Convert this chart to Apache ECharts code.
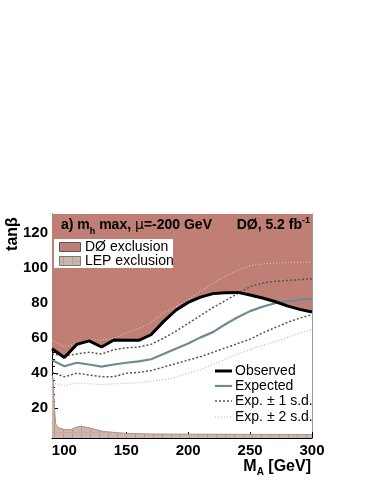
<!DOCTYPE html>
<html>
<head>
<meta charset="utf-8">
<script src="https://cdn.jsdelivr.net/npm/echarts@6/dist/echarts.min.js"></script>
<style>
  html, body { margin: 0; padding: 0; background: #fff; }
  #chart { width: 374px; height: 484px; }
</style>
</head>
<body>
<div id="chart"></div>
<script>
// M_A grid (GeV) and tanβ limits
const masses = [90, 100, 110, 120, 130, 140, 150, 160, 170, 180, 190, 200, 210, 220, 230, 240, 250, 260, 270, 280, 290, 300]
const observed = [54, 49, 56.5, 58.5, 55, 59, 58.8, 58.8, 62, 69.5, 76, 80.5, 83.5, 85.5, 86, 86.2, 84.7, 83, 81, 78.5, 76.5, 75]
const expected = [47.5, 44, 46, 45, 43.8, 45, 46, 46.8, 48, 51, 54, 57, 60.5, 63.5, 68, 72, 75.5, 78, 80, 81, 82, 82.5]
const plus1sd = [51, 50, 51, 52, 51, 53.5, 54.5, 55, 56.5, 60, 64, 68.5, 73, 77.5, 81.5, 85.5, 89.5, 91.5, 92.5, 93, 93.5, 94]
const minus1sd = [40.5, 38, 40, 39, 38, 38, 40, 40.5, 41.5, 43.5, 45.5, 47.5, 49.5, 52, 54.5, 57, 59.5, 63, 66, 69, 71.5, 73.5]
const plus2sd = [59, 55, 57, 59, 59, 60, 63, 65.5, 69, 74.5, 78, 82, 87, 91.5, 95.5, 99, 101.5, 102.5, 103, 103.3, 103.4, 103.5]
const minus2sd = [34.5, 33, 34.5, 34, 33.5, 34, 34.3, 34.6, 35.5, 36.2, 37.8, 40, 42, 45, 48, 51, 53.5, 56, 58, 60.5, 63, 65]

// LEP excluded region
const lepMass = [90, 91, 92, 93, 95, 100, 105, 110, 113, 120, 130, 140, 150, 170, 200, 250, 300]
const lepTanb = [39, 37, 20, 11, 9, 7.8, 7.8, 9.3, 9.8, 8.8, 7, 6.2, 5.7, 5.3, 5.2, 5.1, 5]

// tick labels
const xMajor = [100, 150, 200, 250, 300]
const xMinor = [90, 100, 110, 120, 130, 140, 150, 160, 170, 180, 190, 200, 210, 220, 230, 240, 250, 260, 270, 280, 290, 300]
const yMajor = [20, 40, 60, 80, 100, 120]
const yMinor = [4, 8, 12, 16, 20, 24, 28, 32, 36, 40, 44, 48, 52, 56, 60, 64, 68, 72, 76, 80, 84, 88, 92, 96, 100, 104, 108, 112, 116, 120, 124, 128]

const FONT = 'Liberation Sans, Arial, sans-serif'
const EXCL = '#bf7f75'

const pairs = ys => masses.map((m, i) => [m, ys[i]])

// hatch for the LEP fill
function lepPattern () {
  const c = document.createElement('canvas')
  c.width = 9
  c.height = 9
  const ctx = c.getContext('2d')
  ctx.fillStyle = '#cdb6ac'
  ctx.fillRect(0, 0, 9, 9)
  ctx.fillStyle = '#b59d92'
  ctx.fillRect(0, 0, 1, 9)
  ctx.fillStyle = '#c2aaa0'
  ctx.fillRect(0, 0, 9, 1)
  return c
}
const hatch = lepPattern()

const lineSeries = (name, ys, color, width, type, z) => ({
  name,
  type: 'line',
  data: pairs(ys),
  symbol: 'none',
  silent: true,
  z,
  lineStyle: { color, width, type }
})

const chart = echarts.init(document.getElementById('chart'))

const option = {
  animation: false,
  backgroundColor: '#fff',
  grid: { left: 52, right: 62, top: 214, bottom: 46 },
  xAxis: [
    {
      type: 'value', min: 90, max: 300,
      axisLine: { show: true, lineStyle: { color: '#000', width: 1 } },
      axisTick: { show: true, inside: true, length: 6, customValues: xMajor, lineStyle: { color: '#000' } },
      axisLabel: { customValues: xMajor, color: '#000', fontFamily: FONT, fontWeight: 'bold', fontSize: 15, margin: 5 },
      splitLine: { show: false }
    },
    {
      type: 'value', min: 90, max: 300, position: 'bottom',
      axisLine: { show: false },
      axisTick: { show: true, inside: true, length: 3, customValues: xMinor, lineStyle: { color: '#000' } },
      axisLabel: { show: false },
      splitLine: { show: false }
    }
  ],
  yAxis: [
    {
      type: 'value', min: 3, max: 131,
      axisLine: { show: true, lineStyle: { color: '#000', width: 1 } },
      axisTick: { show: true, inside: true, length: 6, customValues: yMajor, lineStyle: { color: '#000' } },
      axisLabel: { customValues: yMajor, color: '#000', fontFamily: FONT, fontWeight: 'bold', fontSize: 15, margin: 4 },
      splitLine: { show: false }
    },
    {
      type: 'value', min: 3, max: 131, position: 'left',
      axisLine: { show: false },
      axisTick: { show: true, inside: true, length: 3, customValues: yMinor, lineStyle: { color: '#000' } },
      axisLabel: { show: false },
      splitLine: { show: false }
    },
    {
      type: 'value', min: 3, max: 131, position: 'right',
      axisLine: { show: true, lineStyle: { color: '#999', width: 1 } },
      axisTick: { show: false },
      axisLabel: { show: false },
      splitLine: { show: false }
    }
  ],
  series: [
    {
      name: 'DØ exclusion',
      type: 'line',
      data: pairs(observed),
      symbol: 'none',
      silent: true,
      z: 1,
      lineStyle: { width: 0 },
      areaStyle: { origin: 'end', color: EXCL, opacity: 1 }
    },
    {
      name: 'LEP exclusion',
      type: 'line',
      data: lepMass.map((m, i) => [m, lepTanb[i]]),
      symbol: 'none',
      silent: true,
      z: 2,
      lineStyle: { width: 0.8, color: '#9a8177' },
      areaStyle: { origin: 'start', color: { image: hatch, repeat: 'repeat' }, opacity: 1 }
    },
    lineSeries('Exp. -2 s.d.', minus2sd, '#b9b9b9', 1.2, [1, 2], 3),
    lineSeries('Exp. +2 s.d.', plus2sd, '#c9c2c0', 1.2, [1, 2], 3),
    lineSeries('Exp. -1 s.d.', minus1sd, '#555', 1.5, [2, 2], 4),
    lineSeries('Exp. +1 s.d.', plus1sd, '#555', 1.5, [2, 2], 4),
    lineSeries('Expected', expected, '#6c8b95', 2.2, 'solid', 5),
    lineSeries('Observed', observed, '#000', 3, 'solid', 6)
  ],
  graphic: [
    // axis titles
    {
      type: 'text', z: 100, x: 13, y: 234, rotation: Math.PI / 2,
      style: { text: 'tanβ', fontFamily: FONT, fontWeight: 'bold', fontSize: 16, fill: '#000', align: 'center', verticalAlign: 'middle' }
    },
    {
      type: 'text', z: 100, x: 311, y: 467,
      style: {
        text: '{b|M}{s|A}{b| [GeV]}',
        align: 'right', verticalAlign: 'middle',
        rich: {
          b: { fontFamily: FONT, fontWeight: 'bold', fontSize: 16, fill: '#000' },
          s: { fontFamily: FONT, fontWeight: 'bold', fontSize: 10, fill: '#000', padding: [10, 0, 0, 0] }
        }
      }
    },
    // header texts
    {
      type: 'text', z: 100, x: 61, y: 225,
      style: {
        text: '{b|a) m}{s|h}{b| max, }{m|μ}{b|=-200 GeV}',
        align: 'left', verticalAlign: 'middle',
        rich: {
          b: { fontFamily: FONT, fontWeight: 'bold', fontSize: 14, fill: '#000' },
          s: { fontFamily: FONT, fontWeight: 'bold', fontSize: 9, fill: '#000', padding: [13, 0, 0, 0] },
          m: { fontFamily: 'DejaVu Sans', fontSize: 14, fill: '#000' }
        }
      }
    },
    {
      type: 'text', z: 100, x: 310, y: 225,
      style: {
        text: '{b|DØ, 5.2 fb}{s|-1}',
        align: 'right', verticalAlign: 'middle',
        rich: {
          b: { fontFamily: FONT, fontWeight: 'bold', fontSize: 14, fill: '#000' },
          s: { fontFamily: FONT, fontWeight: 'bold', fontSize: 9, fill: '#000', padding: [0, 0, 9, 0] }
        }
      }
    },
    // exclusion legend
    { type: 'rect', z: 100, shape: { x: 54, y: 239, width: 119, height: 29 }, style: { fill: '#fff' } },
    { type: 'rect', z: 101, shape: { x: 59.5, y: 242.5, width: 21, height: 9 }, style: { fill: EXCL, stroke: '#555', lineWidth: 1 } },
    { type: 'rect', z: 101, shape: { x: 59.5, y: 256.5, width: 21, height: 9 }, style: { fill: { image: hatch, repeat: 'repeat' }, stroke: '#777', lineWidth: 1 } },
    { type: 'text', z: 101, x: 85, y: 247, style: { text: 'DØ exclusion', fontFamily: FONT, fontSize: 14, fill: '#000', verticalAlign: 'middle' } },
    { type: 'text', z: 101, x: 85, y: 261, style: { text: 'LEP exclusion', fontFamily: FONT, fontSize: 14, fill: '#000', verticalAlign: 'middle' } },
    // limit legend
    { type: 'line', z: 100, shape: { x1: 215, y1: 371, x2: 232, y2: 371 }, style: { stroke: '#000', lineWidth: 3 } },
    { type: 'line', z: 100, shape: { x1: 215, y1: 386, x2: 232, y2: 386 }, style: { stroke: '#6c8b95', lineWidth: 2.2 } },
    { type: 'line', z: 100, shape: { x1: 215, y1: 401, x2: 232, y2: 401 }, style: { stroke: '#555', lineWidth: 1.5, lineDash: [2, 2] } },
    { type: 'line', z: 100, shape: { x1: 215, y1: 417, x2: 232, y2: 417 }, style: { stroke: '#b9b9b9', lineWidth: 1.2, lineDash: [1, 2] } },
    { type: 'text', z: 100, x: 235, y: 371, style: { text: 'Observed', fontFamily: FONT, fontSize: 14, fill: '#000', verticalAlign: 'middle' } },
    { type: 'text', z: 100, x: 235, y: 386, style: { text: 'Expected', fontFamily: FONT, fontSize: 14, fill: '#000', verticalAlign: 'middle' } },
    { type: 'text', z: 100, x: 235, y: 401, style: { text: 'Exp. ± 1 s.d.', fontFamily: FONT, fontSize: 14, fill: '#000', verticalAlign: 'middle' } },
    { type: 'text', z: 100, x: 235, y: 417, style: { text: 'Exp. ± 2 s.d.', fontFamily: FONT, fontSize: 14, fill: '#000', verticalAlign: 'middle' } }
  ]
}

chart.setOption(option)
</script>
</body>
</html>
